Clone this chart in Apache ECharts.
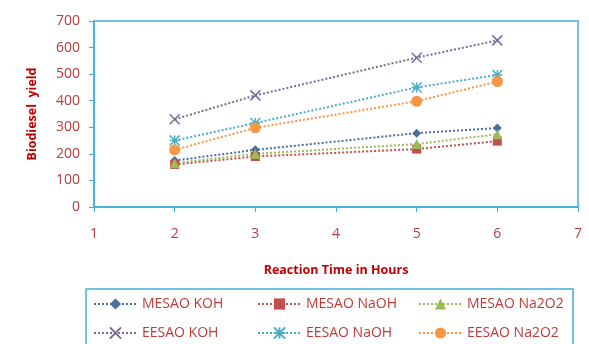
<!DOCTYPE html>
<html><head><meta charset="utf-8">
<script src="https://cdn.jsdelivr.net/npm/echarts@6/dist/echarts.min.js"></script>
<style>html,body{margin:0;padding:0;background:#fff}#c{width:589px;height:344px}</style>
</head><body><div id="c"></div>
<script>
const hours = [2, 3, 5, 6];
const mesaoKOH = [175, 215, 278, 297];
const mesaoNaOH = [160, 190, 218, 248];
const mesaoNa2O2 = [165, 200, 237, 274];
const eesaoKOH = [330, 420, 562, 627];
const eesaoNaOH = [250, 316, 450, 497];
const eesaoNa2O2 = [215, 298, 398, 472];
const seriesNames = ['MESAO KOH','MESAO NaOH','MESAO Na2O2','EESAO KOH','EESAO NaOH','EESAO Na2O2'];
const xTicks = [1,2,3,4,5,6,7];
const yTicks = [0,100,200,300,400,500,600,700];

const colors = ['#4a6ea0','#c0504d','#9bbb59','#7a6a9c','#4bacc6','#f79646'];
const symbols = ['diamond','rect','triangle','path://M0,0L10,10M10,0L0,10','path://M0,0L10,10M10,0L0,10M5,0L5,10M0,5L10,5','circle'];
const sizes = [9,9,10,10,10,11];
const strokeSym = [false,false,false,true,true,false];
const allData = [mesaoKOH, mesaoNaOH, mesaoNa2O2, eesaoKOH, eesaoNaOH, eesaoNa2O2];
const font = 'Open Sans';
const txt = '#bb3b3b';
const axisC = '#3fb0d8';

const series = allData.map((vals, i) => ({
  name: seriesNames[i],
  type: 'line',
  data: hours.map((h, j) => [h, vals[j]]),
  symbol: symbols[i],
  symbolSize: sizes[i],
  showSymbol: true,
  lineStyle: {color: colors[i], width: 2, type: [2, 2]},
  itemStyle: strokeSym[i] ? {color: colors[i], borderColor: colors[i], borderWidth: 1.5} : {color: colors[i]},
  animation: false
}));

const legendCols = [[0,3],[1,4],[2,5]];
const legendLeft = [93, 257, 418];
const legends = legendCols.map((idx, k) => ({
  data: idx.map(i => seriesNames[i]),
  orient: 'vertical',
  left: legendLeft[k],
  top: 297,
  padding: 0,
  itemGap: 15,
  itemWidth: 43,
  itemHeight: 14,
  textStyle: {color: txt, fontFamily: font, fontSize: 14},
  selectedMode: false
}));

const chart = echarts.init(document.getElementById('c'));
chart.setOption({
  animation: false,
  color: colors,
  grid: {left: 94, right: 11, top: 21, bottom: 137, show: true, borderColor: axisC, borderWidth: 1.5},
  xAxis: {
    type: 'value', min: 1, max: 7, interval: 1,
    name: 'Reaction Time in Hours', nameLocation: 'middle', nameGap: 57,
    nameTextStyle: {color: '#c00000', fontWeight: 'bold', fontFamily: font, fontSize: 12.5},
    axisLine: {lineStyle: {color: axisC, width: 1.5}},
    axisTick: {show: true, inside: false, length: 5, lineStyle: {color: axisC}},
    axisLabel: {color: txt, fontFamily: font, fontSize: 14, margin: 20},
    splitLine: {show: false}
  },
  yAxis: {
    type: 'value', min: 0, max: 700, interval: 100,
    name: 'Biodiesel  yield', nameLocation: 'middle', nameGap: 55,
    nameTextStyle: {color: '#c00000', fontWeight: 'bold', fontFamily: font, fontSize: 12.5},
    axisLine: {show: true, lineStyle: {color: axisC, width: 1.5}},
    axisTick: {show: true, length: 5, lineStyle: {color: axisC}},
    axisLabel: {color: txt, fontFamily: font, fontSize: 14, margin: 14},
    splitLine: {show: false}
  },
  legend: legends,
  graphic: [{type: 'rect', shape: {x: 86, y: 289, width: 487, height: 60}, style: {fill: 'none', stroke: axisC, lineWidth: 1.5}, silent: true}],
  series: series
});
</script></body></html>
